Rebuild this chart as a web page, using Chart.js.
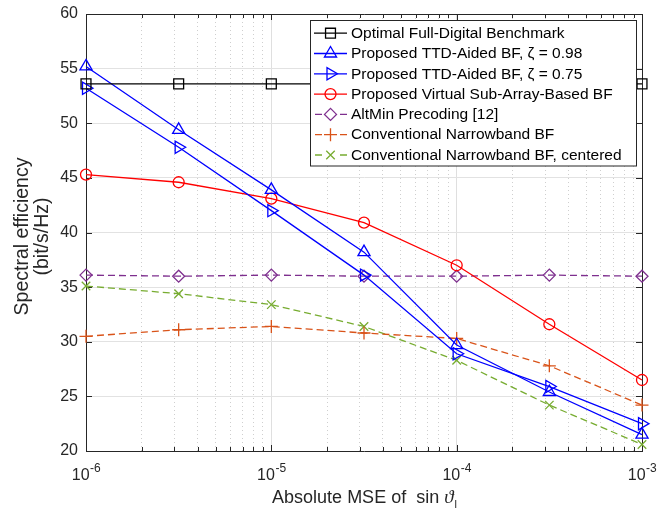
<!DOCTYPE html>
<html>
<head>
<meta charset="utf-8">
<script src="https://cdn.jsdelivr.net/npm/chart.js@4.4.0/dist/chart.umd.min.js"></script>
<style>
  html, body { margin: 0; padding: 0; background: #fff; }
  #wrap { width: 665px; height: 510px; }
</style>
</head>
<body>
<div id="wrap"><canvas id="chart" width="665" height="510"></canvas></div>
<script>
// x values: absolute MSE of sin(theta)
const mseValues = [1e-6, 3.1623e-6, 1e-5, 3.1623e-5, 1e-4, 3.1623e-4, 1e-3];

// spectral efficiency (bit/s/Hz)
const fullDigital        = [53.6, 53.6, 53.6, 53.6, 53.6, 53.6, 53.6];
const ttdAided098        = [55.2, 49.4, 43.9, 38.2, 29.7, 25.4, 21.5];
const ttdAided075        = [53.2, 47.8, 42.0, 36.1, 28.9, 25.9, 22.5];
const virtualSubArray    = [45.3, 44.6, 43.1, 40.9, 37.0, 31.6, 26.5];
const altMin             = [36.1, 36.0, 36.1, 36.0, 36.0, 36.1, 36.0];
const narrowband         = [30.5, 31.1, 31.4, 30.8, 30.3, 27.8, 24.2];
const narrowbandCentered = [35.1, 34.4, 33.4, 31.4, 28.3, 24.2, 20.6];

const seriesNames = [
  'Optimal Full-Digital Benchmark',
  'Proposed TTD-Aided BF, \u03B6 = 0.98',
  'Proposed TTD-Aided BF, \u03B6 = 0.75',
  'Proposed Virtual Sub-Array-Based BF',
  'AltMin Precoding [12]',
  'Conventional Narrowband BF',
  'Conventional Narrowband BF, centered'
];

// axis ticks
const xMajorTicks = [1e-6, 1e-5, 1e-4, 1e-3];
const xMajorExponents = ['-6', '-5', '-4', '-3'];
const yMin = 20, yMax = 60, yStep = 5;

const FONT = "'Liberation Sans', Arial, Helvetica, sans-serif";
const AXIS_COLOR = '#262626';

// all x grid positions (decades + minor 2..9)
const xGridValues = [];
for (let d = 0; d < xMajorTicks.length; d++) {
  xGridValues.push(xMajorTicks[d]);
  if (d < xMajorTicks.length - 1) {
    for (let k = 2; k <= 9; k++) xGridValues.push(+(k * xMajorTicks[d]).toPrecision(6));
  }
}
function isDecade(v) {
  if (!v) return false;
  const l = Math.log10(v);
  return Math.abs(l - Math.round(l)) < 1e-6;
}

const styles = [
  { color: '#000000', pointStyle: 'rect',      radius: 7,   rotation: 0,  dash: [] },
  { color: '#0000ff', pointStyle: 'triangle',  radius: 7,   rotation: 0,  dash: [] },
  { color: '#0000ff', pointStyle: 'triangle',  radius: 7,   rotation: 90, dash: [] },
  { color: '#ff0000', pointStyle: 'circle',    radius: 5.5, rotation: 0,  dash: [] },
  { color: '#7e2f8e', pointStyle: 'rectRot',   radius: 6,   rotation: 0,  dash: [7, 4] },
  { color: '#d95319', pointStyle: 'cross',     radius: 6.5, rotation: 0,  dash: [7, 4] },
  { color: '#77ac30', pointStyle: 'crossRot',  radius: 6,   rotation: 0,  dash: [7, 4] }
];
const seriesData = [fullDigital, ttdAided098, ttdAided075, virtualSubArray, altMin, narrowband, narrowbandCentered];

const datasets = seriesData.map((vals, i) => {
  const s = styles[i];
  return {
    label: seriesNames[i],
    data: vals.map((y, j) => ({ x: mseValues[j], y: y })),
    borderColor: s.color,
    backgroundColor: 'rgba(0,0,0,0)',
    borderWidth: 1.3,
    borderDash: s.dash,
    pointStyle: s.pointStyle,
    pointRadius: s.radius,
    pointRotation: s.rotation,
    pointBorderColor: s.color,
    pointBackgroundColor: 'rgba(0,0,0,0)',
    pointBorderWidth: 1.3,
    pointHoverRadius: s.radius,
    tension: 0,
    clip: false
  };
});

const matlabPlugin = {
  id: 'matlabAxes',
  beforeDatasetsDraw(chart) {
    const ctx = chart.ctx;
    const a = chart.chartArea;
    const xs = chart.scales.x, ys = chart.scales.y;
    ctx.save();
    ctx.strokeStyle = AXIS_COLOR;
    ctx.lineWidth = 1;
    ctx.setLineDash([]);
    // box top and right
    ctx.beginPath();
    ctx.moveTo(a.left, a.top + 0.5); ctx.lineTo(a.right + 0.5, a.top + 0.5);
    ctx.lineTo(a.right + 0.5, a.bottom);
    ctx.stroke();
    // inward ticks
    ctx.beginPath();
    xGridValues.forEach(v => {
      const px = Math.round(xs.getPixelForValue(v)) + 0.5;
      const len = isDecade(v) ? 6 : 4;
      ctx.moveTo(px, a.bottom); ctx.lineTo(px, a.bottom - len);
      ctx.moveTo(px, a.top); ctx.lineTo(px, a.top + len);
    });
    for (let v = yMin; v <= yMax; v += yStep) {
      const py = Math.round(ys.getPixelForValue(v)) + 0.5;
      ctx.moveTo(a.left, py); ctx.lineTo(a.left + 6, py);
      ctx.moveTo(a.right, py); ctx.lineTo(a.right - 6, py);
    }
    ctx.stroke();
    ctx.restore();
  },
  afterDraw(chart) {
    const ctx = chart.ctx;
    const a = chart.chartArea;
    const xs = chart.scales.x;
    ctx.save();
    ctx.fillStyle = AXIS_COLOR;

    // x tick labels 10^k
    xMajorTicks.forEach((v, i) => {
      const px = xs.getPixelForValue(v);
      ctx.font = '16px ' + FONT;
      const wBase = ctx.measureText('10').width;
      ctx.font = '12px ' + FONT;
      const wExp = ctx.measureText(xMajorExponents[i]).width;
      const x0 = px - (wBase + wExp) / 2;
      ctx.textBaseline = 'alphabetic';
      ctx.textAlign = 'left';
      ctx.font = '16px ' + FONT;
      ctx.fillText('10', x0, 480);
      ctx.font = '12px ' + FONT;
      ctx.fillText(xMajorExponents[i], x0 + wBase + 0.5, 472);
    });

    // x title
    const serif = 'italic 19px "Liberation Serif", "DejaVu Serif", serif';
    ctx.font = '18px ' + FONT;
    const part1 = 'Absolute MSE of  sin ';
    const w1 = ctx.measureText(part1).width;
    ctx.font = serif;
    const w2 = ctx.measureText('\u03D1').width;
    ctx.font = '11px ' + FONT;
    const w3 = ctx.measureText('l').width;
    const cx = (a.left + a.right) / 2;
    let tx = cx - (w1 + w2 + w3) / 2;
    ctx.textAlign = 'left';
    ctx.font = '18px ' + FONT;
    ctx.fillText(part1, tx, 503);
    ctx.font = serif;
    ctx.fillText('\u03D1', tx + w1, 503);
    ctx.font = '11px ' + FONT;
    ctx.fillText('l', tx + w1 + w2 + 1, 508);

    // y title
    ctx.save();
    ctx.translate(0, 236.5);
    ctx.rotate(-Math.PI / 2);
    ctx.textAlign = 'center';
    ctx.textBaseline = 'middle';
    ctx.font = '19.5px ' + FONT;
    ctx.fillText('Spectral efficiency', 0, 23);
    ctx.fillText('(bit/s/Hz)', 0, 43);
    ctx.restore();

    // legend box
    const lx = 310.5, ly = 20.5, lw = 326, lh = 145.5;
    ctx.fillStyle = '#ffffff';
    ctx.fillRect(lx, ly, lw, lh);
    ctx.strokeStyle = AXIS_COLOR;
    ctx.lineWidth = 1;
    ctx.setLineDash([]);
    ctx.strokeRect(lx, ly, lw, lh);
    const rowH = 20.3;
    chart.data.datasets.forEach((ds, i) => {
      const y = ly + 12.7 + i * rowH;
      const s = styles[i];
      ctx.save();
      ctx.strokeStyle = s.color;
      ctx.lineWidth = 1.3;
      ctx.beginPath();
      if (s.dash.length) {
        ctx.moveTo(315, y); ctx.lineTo(322, y);
        ctx.moveTo(340, y); ctx.lineTo(347, y);
      } else {
        ctx.moveTo(314, y); ctx.lineTo(347, y);
      }
      ctx.stroke();
      ctx.fillStyle = 'rgba(0,0,0,0)';
      if (Chart.helpers && Chart.helpers.drawPoint) {
        Chart.helpers.drawPoint(ctx, {
          pointStyle: s.pointStyle, rotation: s.rotation,
          radius: s.radius, borderWidth: 1.3
        }, 330.5, y);
      }
      ctx.restore();
      ctx.fillStyle = '#000000';
      ctx.font = '15.5px ' + FONT;
      ctx.textAlign = 'left';
      ctx.textBaseline = 'middle';
      ctx.fillText(ds.label, 351, y + 0.5);
    });
    ctx.restore();
  }
};

new Chart(document.getElementById('chart'), {
  type: 'line',
  data: { datasets: datasets },
  options: {
    responsive: false,
    animation: false,
    devicePixelRatio: 1,
    layout: { padding: { left: 0, right: 23, top: 14, bottom: 0 } },
    plugins: {
      legend: { display: false },
      tooltip: { enabled: false }
    },
    scales: {
      x: {
        type: 'logarithmic',
        min: 1e-6,
        max: 1e-3,
        afterBuildTicks: (scale) => {
          scale.ticks = xGridValues.map(v => ({ value: v, major: isDecade(v) }));
        },
        afterFit: (scale) => {
          scale.height = 59;
          scale.paddingLeft = 0; scale.paddingRight = 0;
        },
        ticks: { display: false },
        grid: {
          drawTicks: false,
          lineWidth: 1,
          color: (c) => (c.tick && isDecade(c.tick.value)) ? '#dfdfdf' : '#cfcfcf'
        },
        border: {
          display: true,
          color: AXIS_COLOR,
          width: 1,
          dash: (c) => (c.tick && !isDecade(c.tick.value)) ? [1, 3] : []
        }
      },
      y: {
        type: 'linear',
        min: yMin,
        max: yMax,
        afterFit: (scale) => {
          scale.width = 86;
          scale.paddingTop = 0; scale.paddingBottom = 0;
        },
        ticks: {
          stepSize: yStep,
          padding: 8,
          color: AXIS_COLOR,
          font: { family: FONT, size: 16 }
        },
        grid: { drawTicks: false, color: '#e2e2e2', lineWidth: 1 },
        border: { display: true, color: AXIS_COLOR, width: 1 }
      }
    }
  },
  plugins: [matlabPlugin]
});
</script>
</body>
</html>
